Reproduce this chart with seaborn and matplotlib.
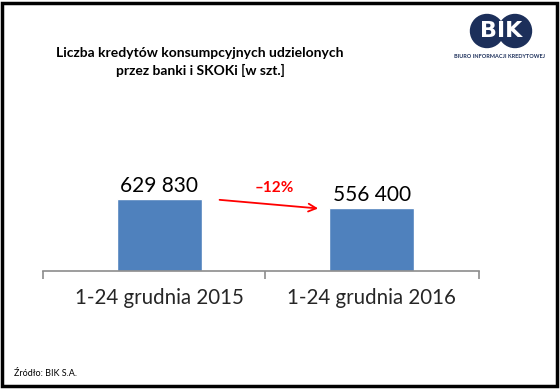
import matplotlib
matplotlib.use("Agg")
import matplotlib.pyplot as plt
import seaborn as sns
import pandas as pd
from matplotlib.patches import Rectangle, Circle

# data
categories = ["1-24 grudnia 2015", "1-24 grudnia 2016"]
values = [629830, 556400]
value_labels = ["629 830", "556 400"]
change_label = "\u201312%"
title_lines = "Liczba kredytów konsumpcyjnych udzielonych\nprzez banki i SKOKi [w szt.]"
source_text = "Źródło: BIK S.A."

sns.set_theme(style="white")
plt.rcParams["font.family"] = ["Lato", "DejaVu Sans"]

W, H = 560, 389
fig = plt.figure(figsize=(W / 100, H / 100), dpi=100)
fig.patch.set_facecolor("white")

# main axes: x 43..479 px, baseline at y=271 px
ax = fig.add_axes([43 / W, (H - 271) / H, (479 - 43) / W, 114 / H])
df = pd.DataFrame({"cat": categories, "val": values})
sns.barplot(data=df, x="cat", y="val", color="#4f81bd", saturation=1, width=0.4, ax=ax)
ax.set_ylim(0, 1000000)
ax.set_xlim(-0.548, 1.504)
for s in ["top", "right", "left"]:
    ax.spines[s].set_visible(False)
ax.spines["bottom"].set_color("#8c8c8c")
ax.spines["bottom"].set_linewidth(1.2)
ax.set_yticks([])
ax.set_xlabel("")
ax.set_ylabel("")
ax.set_xticks([-0.548, 0.497, 1.504], minor=False)
ax.set_xticklabels(["", "", ""])
ax.tick_params(axis="x", which="major", direction="out", length=6, width=1.2,
               color="#8c8c8c", bottom=True)
ax.set_xticks([0, 1], minor=True)
ax.set_xticklabels(categories, minor=True, fontsize=14.8)
ax.tick_params(axis="x", which="minor", length=0, pad=12)

for i, (v, lab) in enumerate(zip(values, value_labels)):
    ax.text(i, v + 25000, lab, ha="center", va="bottom", fontsize=15, color="black")

# red arrow with percentage
ax.annotate("", xy=(0.76, values[1] - 10000), xytext=(0.27, values[1] + 70000),
            arrowprops=dict(arrowstyle="->", color="#ff0000", lw=1.3, mutation_scale=14))
ax.text(0.54, values[0] + 40000, change_label, ha="center", va="bottom",
        fontsize=11, fontweight="bold", color="#ff0000")

# title
fig.text(200 / W, 1 - 62 / H, title_lines, ha="center", va="center", fontsize=10,
         fontweight="bold", color="black", linespacing=1.4)

# footer
fig.text(14 / W, 1 - 374 / H, source_text, ha="left", va="center", fontsize=6.5, color="black")

# logo
lax = fig.add_axes([465 / W, 1 - 50 / H, 72 / W, 38 / H])
lax.set_xlim(0, 72)
lax.set_ylim(0, 38)
lax.axis("off")
navy = "#1c2f5a"
lax.add_patch(Circle((22, 19), 16.5, color=navy))
lax.add_patch(Circle((50, 19), 16.5, color=navy))
lax.text(36, 19, "BIK", ha="center", va="center", color="white", fontsize=16,
         fontweight="bold", family="DejaVu Sans")
fig.text(499 / W, 1 - 56 / H, "BIURO INFORMACJI KREDYTOWEJ", ha="center", va="center",
         fontsize=4, fontweight="bold", color=navy)

# frame
fig.patches.append(Rectangle((1.5 / W, 3.5 / H), 555 / W, 383 / H, transform=fig.transFigure,
                             fill=False, edgecolor="black", lw=2.5))

fig.savefig("out.png", dpi=100)
